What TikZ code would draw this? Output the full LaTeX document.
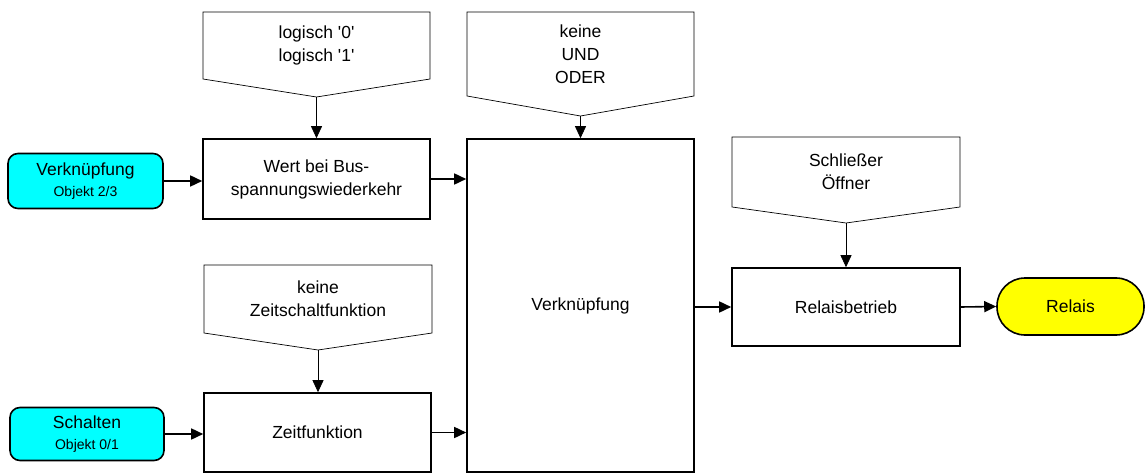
\documentclass[tikz,border=0pt]{standalone}
\usepackage{fontspec}
\setmainfont{Liberation Sans}
\usetikzlibrary{arrows.meta}
\definecolor{incyan}{RGB}{0,255,255}
\definecolor{outyellow}{RGB}{255,255,0}
\newcommand{\pentagonbox}[7]{%
  % #1 name, #2 x left, #3 x right, #4 y top, #5 y side, #6 y tip, #7 text
  \draw[pentline] (#2,#4) -- (#3,#4) -- (#3,#5) -- ({(#2+#3)/2},#6) -- (#2,#5) -- cycle;
  \node[pentext] (#1) at ({(#2+#3)/2},{(#4+#5)/2}) {#7};
  \coordinate (#1-tip) at ({(#2+#3)/2},#6);
}
\begin{document}
\begin{tikzpicture}[x=1pt,y=-1pt,
  basefont/.style={font=\fontsize{17.5}{23}\selectfont},
  procbox/.style={draw, line width=1.6pt, fill=white, minimum width=227pt, minimum height=80pt, inner sep=0pt, align=center, basefont},
  inbox/.style={draw, line width=1.6pt, fill=incyan, rounded corners=10pt, inner sep=0pt, align=center, basefont},
  outbox/.style={draw, line width=1.6pt, fill=outyellow, rounded corners=28pt, inner sep=0pt, align=center, basefont},
  pentline/.style={draw, line width=0.7pt, fill=white},
  pentext/.style={inner sep=0pt, align=center, basefont},
  arr/.style={-{Triangle[length=12pt,width=11pt]}, line width=1.6pt},
  thinarr/.style={-{Triangle[length=12pt,width=11pt]}, line width=0.8pt}
]
\useasboundingbox (0,0) rectangle (1145,473);

% process boxes
\node[procbox] (wert) at (316.5,179) {Wert bei Bus-\\spannungswiederkehr};
\node[procbox, minimum height=333pt] (main) at (580.5,305.5) {Verkn\"upfung};
\node[procbox, minimum height=79pt] (zeit) at (317.5,432.5) {Zeitfunktion};
\node[procbox, minimum width=228pt, minimum height=78pt] (relb) at (846,307) {Relaisbetrieb};

% inputs / output
\node[inbox, minimum width=155pt, minimum height=55pt] (in1) at (85.5,181) {Verkn\"upfung\\[-2pt]{\fontsize{14}{18}\selectfont Objekt 2/3}};
\node[inbox, minimum width=154pt, minimum height=53pt] (in2) at (87,434) {Schalten\\[-2pt]{\fontsize{14}{18}\selectfont Objekt 0/1}};
\node[outbox, minimum width=147pt, minimum height=57pt] (relais) at (1070.5,306.5) {Relais};

% parameter pentagons
\pentagonbox{plog}{203}{430}{12}{79}{97}{logisch \textquotesingle 0\textquotesingle\\logisch \textquotesingle 1\textquotesingle}
\pentagonbox{pund}{467}{694}{12}{96}{116}{keine\\UND\\ODER}
\pentagonbox{pzeit}{204}{432}{265}{333}{350}{keine\\Zeitschaltfunktion}
\pentagonbox{pschl}{732}{960}{137}{207}{223}{Schlie\ss er\\\"Offner}

% parameter arrows
\draw[thinarr] (plog-tip) -- (plog-tip |- wert.north);
\draw[thinarr] (pund-tip) -- (pund-tip |- main.north);
\draw[thinarr] (pzeit-tip) -- (pzeit-tip |- zeit.north);
\draw[thinarr] (pschl-tip) -- (pschl-tip |- relb.north);

% flow arrows
\draw[arr] (in1.east) -- (in1.east -| wert.west);
\draw[arr] (wert.east) -- (wert.east -| main.west);
\draw[arr] (in2.east) -- (in2.east -| zeit.west);
\draw[arr] (zeit.east) -- (zeit.east -| main.west);
\draw[arr] (relb.west -| main.east) -- (relb.west);
\draw[arr] (relb.east) -- (relais.west);
\end{tikzpicture}
\end{document}
